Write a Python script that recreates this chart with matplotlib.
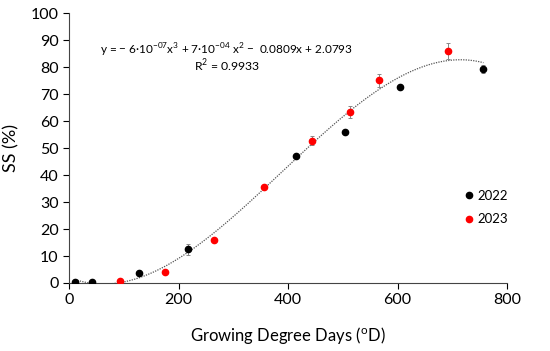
import numpy as np
import matplotlib.pyplot as plt
from matplotlib.lines import Line2D

# data
gdd_2022 = [11, 42, 127, 217, 414, 505, 604, 757]
ss_2022 = [0.2, 0.4, 3.8, 12.5, 47.1, 55.9, 72.5, 79.2]
err_2022 = [0.3, 0.3, 0.5, 2.0, 0.6, 0.5, 0.6, 1.5]

gdd_2023 = [94, 176, 265, 356, 444, 513, 567, 693]
ss_2023 = [0.7, 4.2, 16.1, 35.5, 52.8, 63.4, 75.1, 86.0]
err_2023 = [0.4, 0.5, 0.5, 0.8, 1.8, 2.3, 2.3, 3.0]

# trendline coefficients as printed on the chart
coef = [-6e-07, 7e-04, -0.0809, 2.0793]

plt.rcParams['font.family'] = ['Lato', 'DejaVu Sans']

fig = plt.figure(figsize=(5.5, 3.51), dpi=100)
ax = fig.add_axes([69/550, 1 - 283/351, (507-69)/550, (283-13.3)/351])

xs = np.linspace(min(gdd_2022), max(gdd_2022), 300)
ax.plot(xs, np.polyval(coef, xs), ls=(0, (1, 1)), color='#555555', lw=0.9, zorder=1)

ax.errorbar(gdd_2022, ss_2022, yerr=err_2022, fmt='o', color='black', ms=4.5,
            ecolor='#888888', elinewidth=0.7, capsize=1.5, capthick=0.7, zorder=3)
ax.errorbar(gdd_2023, ss_2023, yerr=err_2023, fmt='o', color='#ff0000', ms=4.5,
            ecolor='#888888', elinewidth=0.7, capsize=1.5, capthick=0.7, zorder=3)

ax.set_xlim(0, 800)
ax.set_ylim(0, 100)
ax.set_xticks(range(0, 801, 200))
ax.set_yticks(range(0, 101, 10))
ax.tick_params(direction='out', length=4, width=0.8, labelsize=11.5, colors='black')
ax.spines['top'].set_visible(False)
ax.spines['right'].set_visible(False)
for s in ['left', 'bottom']:
    ax.spines[s].set_color('#444444')
    ax.spines[s].set_linewidth(0.8)

ax.set_xlabel('Growing Degree Days ($^{\\mathregular{o}}$D)', fontsize=12, labelpad=13)
ax.set_ylabel('SS (%)', fontsize=13, labelpad=8)

ax.text(287, 86.3, 'y = \u2212 6\u00b710$^{\\mathregular{-07}}$x$^{\\mathregular{3}}$ + 7\u00b710$^{\\mathregular{-04}}$ x$^{\\mathregular{2}}$ \u2212  0.0809x + 2.0793',
        fontsize=8.5, ha='center', va='center')
ax.text(289, 80.5, 'R$^{\\mathregular{2}}$ = 0.9933', fontsize=8.8, ha='center', va='center')

handles = [Line2D([], [], ls='none', marker='o', color='black', ms=4.5),
           Line2D([], [], ls='none', marker='o', color='#ff0000', ms=4.5)]
ax.legend(handles, ['2022', '2023'], loc='center left', bbox_to_anchor=(0.872, 0.28),
          frameon=False, fontsize=9.5, handletextpad=0.1, handlelength=1.0, labelspacing=0.9)

plt.savefig('out.png', dpi=100)
